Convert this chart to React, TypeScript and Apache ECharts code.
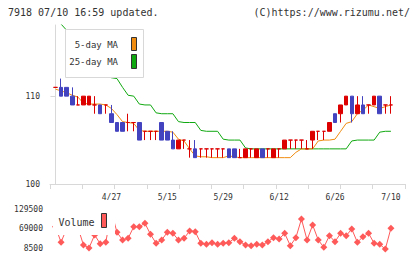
import React, { useEffect, useRef } from 'react';
import * as echarts from 'echarts';

const dates = [
  '4/13','4/14','4/15','4/16','4/17','4/20','4/21','4/22','4/23','4/24','4/27','4/28','4/30',
  '5/1','5/7','5/8','5/11','5/12','5/13','5/14','5/15','5/18','5/19','5/20','5/21','5/22','5/25','5/26','5/27','5/28','5/29',
  '6/1','6/2','6/3','6/4','6/5','6/8','6/9','6/10','6/11','6/12','6/15','6/16','6/17','6/18','6/19','6/22','6/23','6/24','6/25','6/26','6/29','6/30',
  '7/1','7/2','7/3','7/6','7/7','7/8','7/9','7/10'
];

const opens = [111,111,111,110,109,109,109,109,109,109,108,107,107,107,107,107,106,106,106,107,106,105,104,105,104,104,104,104,104,104,104,104,104,103,103,104,103,104,104,103,104,104,105,105,105,104,105,106,106,106,108,108,109,110,108,109,109,109,110,109,109];
const closes = [111,110,110,109,109,110,110,109,108,109,107,106,106,107,107,105,106,106,106,105,105,104,105,105,104,103,104,104,104,104,104,103,103,103,104,104,104,103,104,104,104,105,105,105,105,104,106,106,106,107,107,109,110,108,109,108,109,110,108,109,109];
const lows = [111,110,110,109,109,109,109,108,108,108,107,106,106,106,106,105,105,105,105,105,105,104,104,104,103,103,103,103,103,103,103,103,103,103,103,103,103,103,103,103,103,104,104,104,104,104,104,105,105,106,107,107,109,107,108,108,108,109,108,108,108];
const highs = [111,112,111,111,110,110,110,110,109,109,109,107,107,108,107,107,106,106,106,107,106,106,105,105,105,105,104,104,104,104,104,104,104,104,104,104,104,104,104,104,104,105,105,105,105,105,106,106,106,107,108,109,110,110,110,110,109,110,110,109,110];

const ma5 = [110.8,110.6,110.4,110.1,109.9,109.2,109.1,109.1,109.1,109.0,108.6,107.9,107.1,107.0,106.9,106.1,106.0,106.0,106.0,106.0,106.0,105.9,105.1,104.9,104.0,103.2,103.1,103.1,103.0,103.0,103.0,103.2,103.1,103.0,103.0,103.0,103.0,103.0,103.0,103.0,103.0,103.0,103.0,103.6,104.0,104.0,104.0,104.9,105.0,105.0,105.1,106.0,106.9,107.1,108.0,108.4,109.0,108.8,108.6,108.8,109.0];
const ma25 = [119.0,118.2,117.5,116.8,116.0,115.3,114.6,113.9,113.2,112.6,112.1,112.0,111.0,110.1,110.0,109.1,109.0,109.0,108.1,108.0,108.0,108.0,107.1,107.0,107.0,107.0,106.1,106.0,106.0,106.0,105.1,105.0,105.0,105.0,104.1,104.0,104.0,104.0,104.0,104.0,104.0,104.0,104.0,104.0,104.0,104.0,104.0,104.0,104.0,104.0,104.0,104.0,104.0,104.9,105.0,105.0,105.0,105.0,105.9,106.0,106.0];
const volumes = [75000,27000,70000,65000,74000,18700,9500,49500,22700,27000,122000,57800,34000,39300,75000,75000,85500,51600,23900,34000,57800,54700,34000,39300,61800,59600,23900,20800,25700,20800,23900,25700,39300,28800,18700,16500,20800,18700,28800,41100,37100,54700,16500,41100,98700,34000,80200,34000,11600,47300,28800,54700,47300,67900,27000,44200,54700,23900,20800,6000,70100];

const priceTicks = [100, 110];
const volumeTicks = [8500, 69000, 129500];
const dateLabelIdx = [10, 20, 30, 40, 50, 60];

const RED = '#dd0000';
const BLUE = '#4343c0';
const ORANGE = '#f08c10';
const GREEN = '#10a810';
const VOL = '#ff5a5a';
const AXIS = '#d8d8d8';
const TXT = '#333333';
const MONO = '"DejaVu Sans Mono", monospace';

const X_MIN = -0.98;
const X_MAX = 62.52;

export default function App() {
  const ref = useRef<HTMLDivElement>(null);
  useEffect(() => {
    if (!ref.current) return;
    const chart = echarts.init(ref.current, undefined, { renderer: 'svg' });
    const tickVals = Array.from({ length: 12 }, (_, k) => X_MIN + (k * (X_MAX - X_MIN)) / 11);
    const candleData = dates.map((_, i) => [i, opens[i], closes[i], lows[i], highs[i]]);
    chart.setOption({
      animation: false,
      backgroundColor: '#ffffff',
      grid: [
        { left: 50, right: 15, top: 25, height: 159 },
        { left: 50, right: 15, top: 209, height: 39.3 },
      ],
      xAxis: [
        {
          type: 'value', gridIndex: 0, min: X_MIN, max: X_MAX,
          axisLine: { show: true, lineStyle: { color: AXIS, width: 1 } },
          axisTick: { show: true, length: 5, customValues: tickVals, lineStyle: { color: AXIS } },
          splitLine: { show: false },
          axisLabel: {
            show: true, customValues: dateLabelIdx, margin: 9,
            formatter: (v: number) => dates[Math.round(v)] ?? '',
            color: TXT, fontFamily: MONO, fontSize: 8,
          },
        },
        { type: 'value', gridIndex: 1, min: X_MIN, max: X_MAX, show: false },
      ],
      yAxis: [
        {
          type: 'value', gridIndex: 0, min: 100, max: 118.1,
          axisLine: { show: true, lineStyle: { color: AXIS, width: 1 } },
          axisTick: { show: true, length: 5, customValues: priceTicks, lineStyle: { color: AXIS } },
          splitLine: { show: false },
          axisLabel: { customValues: priceTicks, margin: 10, color: TXT, fontFamily: MONO, fontSize: 8, formatter: (v: number) => String(v) },
        },
        {
          type: 'value', gridIndex: 1, min: 8500, max: 129500,
          axisLine: { show: false }, axisTick: { show: false }, splitLine: { show: false },
          axisLabel: { customValues: volumeTicks, margin: 7, color: TXT, fontFamily: MONO, fontSize: 8, formatter: (v: number) => String(v) },
        },
      ],
      series: [
        {
          type: 'line', xAxisIndex: 0, yAxisIndex: 0, name: '25-day MA',
          data: ma25.map((v, i) => [i, v]), showSymbol: false, z: 1,
          lineStyle: { color: GREEN, width: 1 }, itemStyle: { color: GREEN },
        },
        {
          type: 'line', xAxisIndex: 0, yAxisIndex: 0, name: '5-day MA',
          data: ma5.map((v, i) => [i, v]), showSymbol: false, z: 1,
          lineStyle: { color: ORANGE, width: 1 }, itemStyle: { color: ORANGE },
        },
        {
          type: 'candlestick', xAxisIndex: 0, yAxisIndex: 0, name: 'price',
          data: candleData, barWidth: 4, z: 3,
          itemStyle: {
            color: RED, color0: BLUE, borderColor: RED, borderColor0: BLUE,
            borderColorDoji: RED, borderWidth: 1,
          },
        },
        {
          type: 'line', xAxisIndex: 1, yAxisIndex: 1, name: 'Volume',
          data: volumes.map((v, i) => [i, v]), clip: false,
          symbol: 'diamond', symbolSize: 7, showSymbol: true,
          lineStyle: { color: VOL, width: 1 }, itemStyle: { color: VOL },
        },
      ],
      graphic: [
        { type: 'text', x: 8, y: 12.5, z: 20, style: { text: '7918 07/10 16:59 updated.', fill: TXT, font: `10px ${MONO}`, textAlign: 'left', textVerticalAlign: 'middle' } },
        { type: 'text', x: 410, y: 12.5, z: 20, style: { text: '(C)https://www.rizumu.net/', fill: TXT, font: `10px ${MONO}`, textAlign: 'right', textVerticalAlign: 'middle' } },
        { type: 'rect', z: 20, shape: { x: 65.5, y: 29.5, width: 78, height: 48 }, style: { fill: '#ffffff', stroke: AXIS, lineWidth: 1 } },
        { type: 'text', x: 118, y: 45, z: 21, style: { text: '5-day MA', fill: TXT, font: `9px ${MONO}`, textAlign: 'right', textVerticalAlign: 'middle' } },
        { type: 'text', x: 118, y: 62, z: 21, style: { text: '25-day MA', fill: TXT, font: `9px ${MONO}`, textAlign: 'right', textVerticalAlign: 'middle' } },
        { type: 'rect', z: 21, shape: { x: 131.5, y: 37.5, width: 5, height: 13 }, style: { fill: ORANGE, stroke: '#333', lineWidth: 1 } },
        { type: 'rect', z: 21, shape: { x: 131.5, y: 54.5, width: 5, height: 14 }, style: { fill: GREEN, stroke: '#333', lineWidth: 1 } },
        { type: 'rect', z: 20, shape: { x: 53, y: 200, width: 62, height: 35 }, style: { fill: '#ffffff' } },
        { type: 'text', x: 58.5, y: 222, z: 21, style: { text: 'Volume', fill: TXT, font: `10px ${MONO}`, textAlign: 'left', textVerticalAlign: 'middle' } },
        { type: 'rect', z: 21, shape: { x: 101.5, y: 213.5, width: 5, height: 14 }, style: { fill: VOL, stroke: '#333', lineWidth: 1 } },
      ],
    });
    return () => chart.dispose();
  }, []);
  return <div ref={ref} style={{ width: 420, height: 259, position: 'absolute', left: 0, top: 0 }} />;
}
